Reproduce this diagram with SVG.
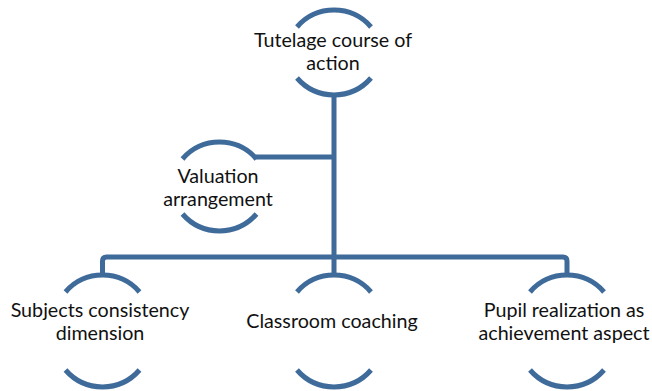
<svg xmlns="http://www.w3.org/2000/svg" width="652" height="391" viewBox="0 0 652 391">
<style>
.arc{fill:none;stroke:#3F6B9B;stroke-width:5}
.con{fill:none;stroke:#3F6B9B;stroke-width:5}
text{font-family:Lato,"Liberation Sans",sans-serif;font-size:19.7px;fill:#111;text-anchor:middle}
</style>
<rect width="652" height="391" fill="#fff"/>
<g id="connectors">
<path class="con" d="M334,94 V275"/>
<path class="con" d="M256,157 H334"/>
<path class="con" d="M102.5,275 V261 Q102.5,257 106.5,257 H563 Q567,257 567,261 V275"/>
</g>
<g id="node-top">
<path class="arc" d="M297,27 A49,49 0 0 1 371,27"/>
<path class="arc" d="M297,78 A49,49 0 0 0 371,78"/>
<text x="333" y="47">Tutelage course of</text>
<text x="333" y="70">action</text>
</g>
<g id="node-valuation">
<path class="arc" d="M182.5,159 A49,49 0 0 1 256.5,159"/>
<path class="arc" d="M182.5,214 A49,49 0 0 0 256.5,214"/>
<text x="218" y="183">Valuation</text>
<text x="218" y="206">arrangement</text>
</g>
<g id="node-subjects">
<path class="arc" d="M65.5,292 A49,49 0 0 1 139.5,292"/>
<path class="arc" d="M65.5,370 A49,49 0 0 0 139.5,370"/>
<text x="100" y="317">Subjects consistency</text>
<text x="100" y="340">dimension</text>
</g>
<g id="node-classroom">
<path class="arc" d="M297,292 A49,49 0 0 1 371,292"/>
<path class="arc" d="M297,370 A49,49 0 0 0 371,370"/>
<text x="332" y="328">Classroom coaching</text>
</g>
<g id="node-pupil">
<path class="arc" d="M530,292 A49,49 0 0 1 604,292"/>
<path class="arc" d="M530,370 A49,49 0 0 0 604,370"/>
<text x="564" y="317">Pupil realization as</text>
<text x="564" y="340">achievement aspect</text>
</g>
</svg>
